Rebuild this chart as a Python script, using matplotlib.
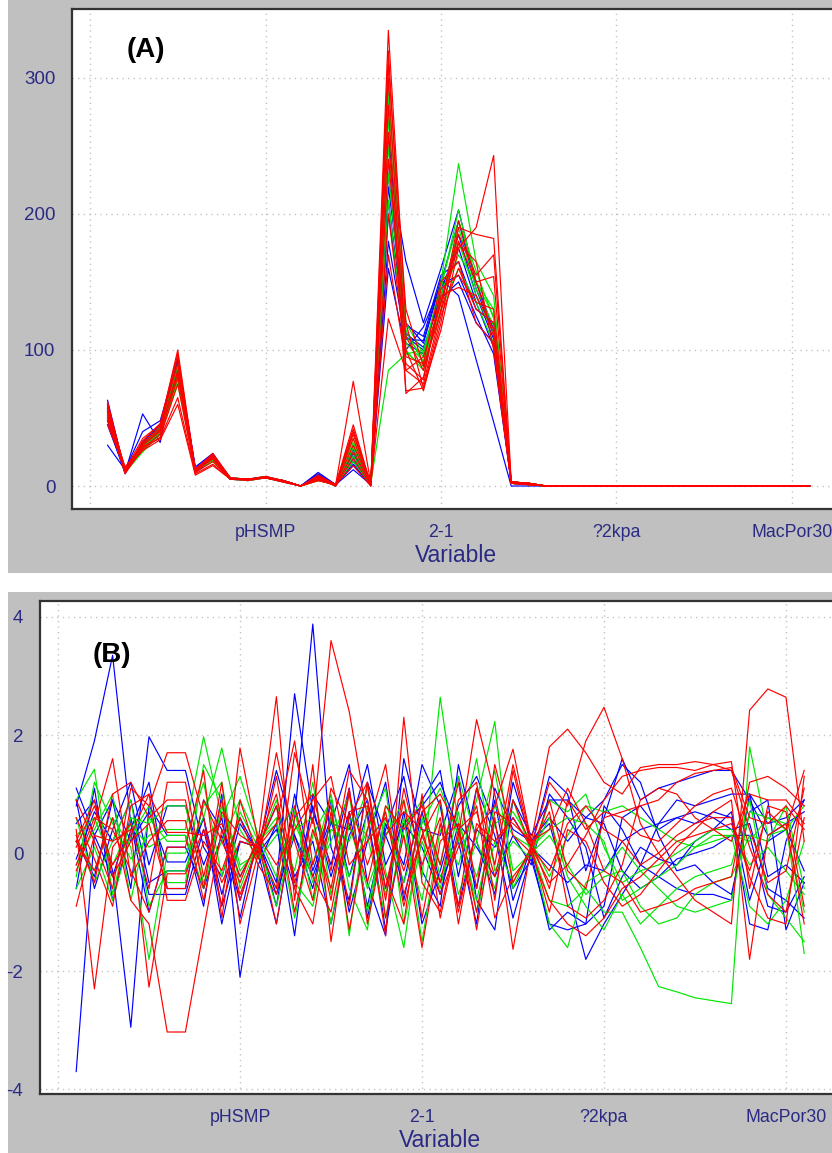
import matplotlib.pyplot as plt
from matplotlib.patches import Rectangle

plt.rcParams['font.family'] = ['Liberation Sans', 'DejaVu Sans']
plt.rcParams['axes.unicode_minus'] = False

# variable axis: 41 variables, labelled every 10th
n_vars = 41
tick_pos = [0, 10, 20, 30, 40]
tick_labels = ['', 'pHSMP', '2-1', '?2kpa', 'MacPor30']

# ---- panel A: raw values (variables 1-25, then flat tail 26-41) ----
a_tail = [0, 0, 0, 0, 0, 0, 0, 0, 0, 0, 0, 0, 0, 0, 0, 0]

a_red = [
    [58, 10, 32, 42, 95, 10, 22, 5, 5, 6, 4, 0, 5, 1, 77, 2, 335, 120, 72, 115, 175, 190, 243, 3, 2],
    [60, 12, 35, 45, 100, 12, 24, 6, 5, 7, 4, 0, 7, 1, 45, 1, 320, 100, 70, 120, 190, 185, 182, 3, 2],
    [55, 11, 30, 40, 85, 11, 20, 5, 5, 6, 4, 0, 6, 0, 40, 1, 300, 85, 75, 130, 195, 150, 154, 2, 1],
    [52, 9, 28, 38, 80, 13, 22, 5, 5, 6, 3, 0, 5, 1, 35, 0, 280, 70, 72, 125, 160, 130, 120, 3, 2],
    [50, 10, 27, 36, 75, 10, 18, 5, 4, 6, 4, 0, 4, 1, 30, 1, 260, 68, 80, 140, 146, 140, 115, 2, 1],
    [57, 11, 31, 44, 90, 12, 23, 6, 5, 7, 4, 0, 6, 1, 38, 2, 240, 110, 85, 135, 180, 150, 110, 3, 2],
    [45, 13, 29, 35, 65, 9, 16, 5, 5, 6, 3, 0, 5, 0, 25, 1, 200, 95, 90, 150, 165, 120, 105, 2, 1],
    [48, 12, 26, 34, 60, 8, 15, 5, 5, 6, 4, 0, 4, 1, 20, 1, 170, 90, 78, 145, 155, 135, 130, 3, 2],
    [62, 10, 33, 46, 97, 11, 21, 5, 5, 6, 4, 0, 8, 1, 42, 1, 123, 85, 95, 135, 185, 155, 170, 3, 2],
    [54, 14, 30, 41, 83, 12, 20, 5, 5, 6, 4, 0, 6, 1, 15, 0, 310, 130, 88, 128, 178, 165, 100, 2, 1],
]
a_green = [
    [55, 13, 27, 40, 80, 11, 19, 5, 5, 6, 4, 0, 5, 1, 35, 1, 295, 110, 95, 150, 237, 165, 140, 3, 2],
    [52, 12, 26, 38, 78, 12, 20, 6, 5, 6, 4, 0, 4, 1, 30, 2, 85, 97, 100, 145, 203, 150, 125, 3, 1],
    [58, 11, 28, 42, 85, 10, 21, 5, 5, 6, 4, 0, 6, 1, 28, 1, 270, 115, 90, 135, 190, 145, 118, 2, 2],
    [50, 10, 25, 39, 75, 12, 18, 5, 4, 6, 4, 0, 5, 0, 22, 1, 250, 100, 85, 140, 180, 140, 112, 3, 2],
    [56, 12, 29, 43, 90, 11, 20, 5, 5, 6, 4, 0, 4, 1, 25, 1, 230, 105, 92, 138, 170, 150, 130, 2, 1],
    [53, 13, 27, 41, 82, 12, 19, 5, 5, 6, 3, 0, 5, 1, 18, 1, 210, 98, 88, 130, 160, 135, 105, 3, 2],
    [57, 11, 30, 44, 88, 10, 22, 6, 5, 7, 4, 0, 6, 1, 32, 2, 285, 120, 97, 148, 195, 158, 123, 2, 1],
]
a_blue = [
    [63, 10, 53, 32, 95, 12, 22, 5, 5, 6, 4, 0, 10, 1, 24, 1, 240, 165, 120, 160, 203, 150, 115, 3, 2],
    [30, 12, 40, 48, 92, 14, 24, 5, 5, 6, 4, 0, 8, 1, 20, 1, 220, 120, 105, 150, 195, 145, 112, 2, 1],
    [48, 9, 33, 45, 90, 13, 23, 6, 5, 7, 4, 0, 7, 0, 18, 0, 200, 110, 100, 140, 185, 140, 108, 3, 2],
    [55, 11, 31, 42, 88, 12, 21, 5, 5, 6, 4, 0, 6, 1, 15, 1, 180, 105, 97, 145, 175, 135, 102, 3, 1],
    [50, 13, 29, 40, 85, 11, 20, 5, 5, 6, 3, 0, 5, 1, 12, 1, 260, 118, 110, 155, 165, 130, 120, 2, 2],
    [58, 12, 30, 43, 87, 10, 19, 5, 4, 6, 4, 0, 9, 1, 22, 2, 160, 100, 117, 148, 155, 125, 97, 3, 2],
    [45, 10, 28, 38, 83, 11, 20, 5, 5, 6, 4, 0, 6, 1, 16, 1, 230, 112, 102, 138, 150, 120, 105, 2, 1],
    [60, 11, 32, 44, 93, 12, 22, 5, 5, 6, 4, 0, 7, 0, 27, 1, 210, 108, 107, 152, 140, 93, 47, 0, 0],
]

# ---- panel B: standardised values (41 variables) ----
b_blue = [
    [-3.7, 0.3, -0.4, 0.6, -0.7, -0.7, -0.7, 0.4, -0.9, 0.2, 0.1, 1.4, 0.3, -0.6, 0.9, -0.4, 0.7, -1.3, 0.5, 0.8,
     1.2, 0.4, -0.6, 0.9, -0.8, 0.1, 1.3, 1.0, -0.3, 0.6, 1.6, 0.9, 1.1, 1.2, 1.3, 1.4, 1.4, 0.9, 0.3, 0.5, 0.7],
    [0.8, 1.9, 3.35, 0.5, -1.0, 0.1, 0.1, -0.6, 0.3, -0.8, 0.2, -0.5, 2.7, 0.7, -0.2, 1.1, -1.1, 0.4, 1.3, -0.3,
     -0.9, 1.5, 0.2, -0.7, 1.2, 0.2, 0.5, -0.6, -1.8, -1.2, -0.7, -0.2, 0.5, 0.9, 0.8, 0.9, 1.0, 1.0, -0.4, -0.2, -0.5],
    [1.1, 0.3, 0.9, -0.6, 1.97, 1.4, 1.4, 0.1, -0.4, 0.6, 0.0, -1.2, 0.6, 3.88, 0.1, -0.8, 1.2, 0.3, -0.5, 0.9,
     1.4, -0.4, 1.1, 0.3, -1.1, 0.0, -1.3, -1.0, -1.2, -0.9, 0.6, 0.8, 0.4, 0.6, 0.5, 0.7, 0.6, -1.2, -1.3, 0.2, 0.9],
    [0.5, 0.9, -0.3, -2.95, 0.8, 0.3, 0.3, -0.9, 1.0, -2.1, -0.2, 0.5, -1.4, 1.0, 0.5, 1.5, -0.5, -1.4, 1.6, 0.4,
     0.3, 1.3, -0.8, -1.3, 0.9, 0.3, 0.9, 0.9, 0.6, 0.9, 1.5, 1.2, 0.3, -0.3, -0.2, -0.5, -0.7, 0.7, 0.9, -1.3, -0.5],
    [-0.1, 0.7, 0.2, 0.9, -0.5, -0.3, -0.3, 0.6, -1.2, 0.2, 0.1, 0.8, -0.4, 0.2, -1.2, 0.3, 0.9, -0.6, 0.7, -1.2,
     -0.3, 0.8, 1.3, 0.5, -0.6, -0.1, -1.2, -1.3, -1.2, 0.8, 0.4, -0.2, -0.4, -0.1, 0.0, 0.1, 0.3, 0.3, -0.9, -1.0, -0.4],
    [0.9, -0.6, 0.4, 1.2, -0.2, 0.8, 0.8, -0.2, 0.6, -1.1, 0.3, -0.9, 1.0, -0.3, 0.6, -1.0, 0.2, 1.2, -0.8, 0.7,
     -0.5, 0.2, -1.2, 1.1, 0.4, 0.2, 0.6, 0.2, 0.6, 0.5, -0.3, -0.6, -0.4, -0.6, -0.7, -0.7, -0.8, 1.0, 0.5, 0.6, 0.9],
    [0.2, -0.4, 0.9, 0.2, 0.7, -0.15, -0.15, 0.6, -0.7, 0.5, 0.0, 0.4, -0.6, 0.8, -0.4, 0.7, -0.9, 0.5, -0.2, 1.5,
     0.8, -0.9, 0.4, 0.1, 0.6, 0.1, -0.2, -0.5, -0.2, -0.3, 0.2, 0.4, 0.5, 0.6, 0.7, 0.6, 0.4, 0.5, -0.6, -0.8, -1.1],
    [-0.6, 1.1, -0.8, 0.4, 1.2, -0.6, -0.6, 0.9, 0.4, -0.4, 0.2, -0.7, 0.3, -0.4, 0.5, 0.4, 1.5, -0.2, 0.5, 0.1,
     -0.7, 0.5, 0.1, -0.4, 0.3, -0.2, 1.0, 0.6, 0.1, -1.1, -0.4, 0.1, -0.1, -0.2, 0.2, 0.4, 0.7, -0.8, 0.2, 0.4, -0.3],
]
b_green = [
    [0.3, 0.6, -0.2, 0.5, 0.1, 0.3, 0.3, -0.6, 0.8, -0.3, 0.1, 0.9, -0.5, -0.9, 0.6, -0.4, 0.4, 1.1, -1.2, 0.2,
     -0.6, 0.7, -1.0, 0.2, -0.5, 0.1, -0.8, -0.9, -0.6, -1.0, -1.0, -1.6, -2.26, -2.35, -2.45, -2.5, -2.55, 1.8, 0.3, 0.4, -1.0],
    [-0.2, 0.4, 1.0, -0.8, 0.6, 0.2, 0.2, 1.2, -0.4, 0.7, 0.1, -0.9, 0.4, 0.6, -1.2, 0.5, -0.6, 0.3, 0.9, -0.4,
     2.64, 0.5, -0.4, 0.8, 0.3, 0.1, 0.4, 0.6, 0.5, 0.2, -0.8, -0.6, -0.4, -0.2, 0.1, 0.2, 0.3, 0.2, 0.6, 0.5, -1.7],
    [0.6, -0.5, 0.2, 0.9, -0.9, -0.3, -0.3, 0.8, 1.2, -0.6, 0.2, 0.6, -1.1, 0.3, 0.9, -1.4, 0.8, -0.7, 0.6, -1.5,
     0.4, -0.2, 0.9, 2.23, -0.6, 0.1, -1.2, -1.6, -0.5, -0.3, 0.1, -0.3, -0.6, -0.9, -1.0, -0.9, -0.8, 0.7, 0.6, 0.4, 0.8],
    [-0.4, 1.2, 0.5, -0.1, 0.3, 0.4, 0.4, 1.97, 0.6, 1.3, 0.3, -0.4, 0.7, -0.5, 0.2, 1.0, -1.0, 0.6, -0.5, 0.5,
     1.1, 0.3, -0.8, 0.5, 0.7, 0.2, -0.4, 0.3, 0.8, 0.7, 0.8, 0.6, 0.4, 0.2, 0.1, 0.3, 0.3, -0.9, -1.2, -0.8, 0.2],
    [0.2, -0.3, 0.6, 0.1, -1.8, 0.0, 0.0, 0.6, 1.78, 0.4, -0.1, 0.3, 0.8, -0.8, 0.4, 0.2, 1.1, -0.3, -1.6, 0.6,
     -0.2, 1.3, 0.2, -0.6, 0.9, 0.0, 0.3, -0.2, -0.7, -0.4, -0.3, -0.9, -1.2, -1.1, -0.7, -0.5, -0.4, 0.3, 0.2, 0.8, -0.6],
    [0.9, 1.42, -0.7, 0.6, 0.5, 0.8, 0.8, -0.5, 0.2, 0.9, 0.2, 0.5, -0.3, 1.2, -0.7, 0.6, 0.3, -1.1, 0.4, 0.9,
     -0.4, 0.2, 1.6, -0.3, 0.2, -0.1, 0.9, 0.7, 1.0, 0.1, -0.5, -0.3, -0.2, 0.0, 0.2, 0.4, 0.4, -0.2, 0.1, -0.3, -0.7],
    [-0.6, 0.1, -0.8, 0.3, 0.8, -0.5, -0.5, 1.5, 0.9, -0.2, 0.0, -0.6, 0.5, -0.2, 1.0, -0.6, -1.3, 0.8, 0.3, -0.8,
     0.9, -0.7, 0.2, 1.4, -0.3, 0.0, 0.6, -0.4, -0.9, -1.3, -0.7, -1.2, -0.9, -0.6, -0.4, -0.3, -0.2, 0.9, -0.7, -1.1, -1.5],
]
b_red = [
    [0.2, -0.3, 0.6, -0.8, -1.2, -3.03, -3.03, -1.3, 0.4, -0.7, 0.1, 0.8, -1.0, 0.4, -0.6, 1.0, -0.2, 0.7, -0.9, 0.3,
     -0.5, 0.9, 1.2, -0.8, 1.4, 0.1, -0.3, 0.5, 0.8, 0.4, 0.2, -0.2, 0.0, 0.3, 0.5, 0.6, 0.6, -0.4, -1.1, -1.2, 1.3],
    [0.9, 0.2, -0.6, 1.1, 0.8, 1.7, 1.7, 0.6, -0.9, 1.78, 0.2, -1.2, 0.6, 1.0, -0.3, 1.4, 0.9, -0.8, 1.1, -0.2,
     0.6, -1.0, 0.4, 0.8, 1.76, 0.2, 1.8, 2.1, 1.7, 1.2, 1.0, 1.45, 1.5, 1.5, 1.55, 1.5, 1.55, -0.6, 0.8, 0.7, -0.9],
    [0.4, -2.3, 0.1, 0.5, -0.6, 1.2, 1.2, -0.4, 0.9, -0.8, 0.2, 1.0, -0.6, -1.2, 0.7, -0.9, 1.2, -1.1, 0.3, -1.6,
     0.2, 0.5, -1.3, 0.6, -1.63, 0.1, -0.5, -0.2, 0.3, 0.9, 1.3, 1.4, 1.45, 1.45, 1.4, 1.5, 1.4, 0.4, -0.5, -0.3, 1.1],
    [-0.3, 0.5, 1.6, -0.4, 0.2, 0.55, 0.55, -0.8, 0.7, 0.3, 0.1, -0.6, 1.7, 0.5, 3.6, 2.4, 0.6, -1.4, 2.3, -0.5,
     -1.0, 0.4, 0.7, -0.4, 0.9, 0.1, 0.7, -0.9, -1.1, -0.8, -0.2, 0.9, 1.1, 1.0, 0.6, 0.4, 0.2, 1.0, 0.9, 0.9, 0.5],
    [0.1, 0.8, -0.2, 0.3, 1.0, 0.35, 0.35, 0.3, 0.5, -0.4, 0.2, 2.65, -0.8, 1.5, -1.5, 0.7, 0.8, -0.4, -1.2, 1.0,
     -1.1, 0.3, 2.26, 1.0, -0.5, 0.1, 1.2, 0.8, 1.9, 2.47, 1.6, 0.5, 0.0, -0.4, -0.8, -1.0, -1.2, 2.42, 2.78, 2.64, 0.2],
    [-0.9, 0.3, 0.2, 0.4, -2.27, -0.35, -0.35, 0.4, -0.5, 0.2, 0.1, 0.5, 1.9, -0.2, 0.8, -1.3, 0.4, 1.5, -0.7, 0.3,
     0.9, -1.2, 0.5, 0.2, 0.6, 0.1, -1.0, 0.4, 0.2, -0.5, -0.9, -0.7, -0.3, 0.1, 0.4, 0.7, 0.9, -1.8, 0.3, 0.5, -1.2],
    [0.3, -0.5, 1.0, 1.2, 0.6, 0.9, 0.9, -0.6, 1.2, -1.2, 0.0, 1.7, 0.2, -0.8, 1.1, 0.5, -0.5, 0.8, 0.4, 0.8,
     -0.2, 1.2, -0.6, 1.5, 0.3, 0.0, 0.9, -0.3, -0.6, 0.6, 0.7, 0.8, 0.9, 1.2, 1.35, 1.4, 1.45, 0.6, 0.5, 0.8, 0.4],
    [0.6, -0.1, -0.9, 0.8, 1.0, -0.8, -0.8, 0.2, -0.3, 0.6, -0.2, -0.7, 0.8, -0.4, -1.0, 0.6, 1.2, -0.6, 0.9, -1.1,
     0.5, -0.9, 1.1, -0.2, 1.5, 0.2, 0.4, 1.1, 0.5, -0.3, -0.5, -1.0, -0.9, -0.8, -0.6, -0.5, -0.4, 1.2, 1.3, 1.1, 0.8],
    [-0.2, 0.6, 0.4, -0.3, -1.0, 0.1, 0.1, 1.4, -1.1, 0.9, -0.1, 1.3, -0.5, 0.6, -0.8, 1.1, -1.2, 0.3, 0.7, 0.4,
     -0.7, 0.1, 0.8, -1.1, -0.4, 0.0, -0.8, -1.2, -1.4, -1.1, -0.6, -0.4, -0.1, 0.2, 0.3, 0.4, 0.5, -0.3, 0.7, 0.4, 1.4],
    [0.2, 0.9, -0.4, 0.2, 0.5, -0.6, -0.6, 0.9, 0.2, -0.5, 0.3, -0.2, 0.4, 0.9, 1.3, -0.2, 0.2, 0.6, -0.3, 0.7,
     1.0, 0.4, -1.0, 0.7, 0.5, 0.2, -0.6, 0.9, 0.4, 0.7, 0.6, 0.3, 0.2, 0.5, 0.8, 1.0, 1.1, 0.1, -0.7, -1.0, 0.6],
]

RED, GREEN, BLUE = '#ff0000', '#00e600', '#0000ff'
TXT = '#2a2a84'
GREY = '#c0c0c0'

W, H = 832, 1153
fig = plt.figure(figsize=(W / 100, H / 100), dpi=100)
fig.patch.set_facecolor('white')


def px_box(x0, y0, x1, y1):
    # pixel box (top-left origin) -> figure fraction rect
    return [x0 / W, 1 - y1 / H, (x1 - x0) / W, (y1 - y0) / H]


# grey panel backgrounds, behind the axes
for y0, y1 in [(0, 573), (592, 1153)]:
    b = px_box(8, y0, 840, y1)
    fig.patches.append(Rectangle((b[0], b[1]), b[2], b[3], transform=fig.transFigure,
                                 facecolor=GREY, edgecolor='none', zorder=-10))


def style_axes(ax, yticks):
    ax.set_zorder(1)
    ax.set_facecolor('white')
    ax.set_xticks(tick_pos)
    ax.set_xticklabels(tick_labels)
    ax.set_yticks(yticks)
    ax.tick_params(length=0, labelsize=13.5, labelcolor=TXT)
    ax.tick_params(axis='x', pad=11, labelsize=12.8)
    ax.tick_params(axis='y', pad=12)
    ax.grid(True, color='#c4c4c4', linestyle=(0, (1, 3)), linewidth=1)
    ax.set_axisbelow(True)
    for side in ['left', 'top', 'bottom']:
        ax.spines[side].set_color('#333333')
        ax.spines[side].set_linewidth(1.6)
    ax.spines['right'].set_visible(False)
    ax.set_xlabel('Variable', fontsize=16.5, color=TXT, labelpad=2)


xs = list(range(1, n_vars + 1))

# panel A
ax1 = fig.add_axes(px_box(72, 9, 840, 509))
for group, col in [(a_blue, BLUE), (a_green, GREEN), (a_red, RED)]:
    for row in group:
        ax1.plot(xs, row + a_tail, color=col, lw=0.85)
ax1.set_xlim((72 - 90) / 17.55, (840 - 90) / 17.55)
ax1.set_ylim(-16.9, 350.7)
style_axes(ax1, [0, 100, 200, 300])

# panel B
ax2 = fig.add_axes(px_box(40, 601, 840, 1094))
for group, col in [(b_blue, BLUE), (b_green, GREEN), (b_red, RED)]:
    for row in group:
        ax2.plot(xs, row, color=col, lw=0.85)
ax2.set_xlim((40 - 58) / 18.2, (840 - 58) / 18.2)
ax2.set_ylim(-4.08, 4.27)
style_axes(ax2, [-4, -2, 0, 2, 4])

# panel letters
fig.text(146 / W, 1 - 50 / H, '(A)', fontsize=20, fontweight='bold', ha='center', va='center', zorder=5)
fig.text(112 / W, 1 - 655 / H, '(B)', fontsize=20, fontweight='bold', ha='center', va='center', zorder=5)

fig.savefig('out.png', dpi=100)
